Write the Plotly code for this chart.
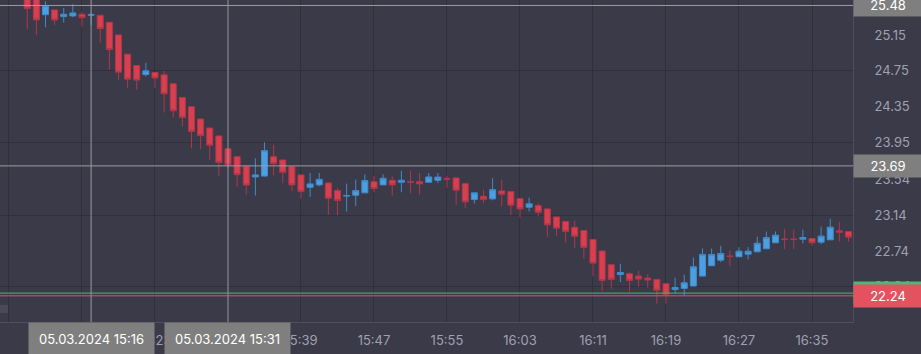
import pandas as pd
import plotly.graph_objects as go

# ---------------- data ----------------
start_time = "2024-03-05 15:09"
open_ = [25.60, 25.56, 25.377, 25.430, 25.356, 25.363, 25.382, 25.371, 25.371, 25.293,
         25.151, 24.937, 24.810, 24.709, 24.732, 24.706, 24.606, 24.453, 24.350, 24.213,
         24.113, 24.024, 23.882, 23.793, 23.685, 23.567, 23.576, 23.793, 23.756, 23.682,
         23.589, 23.451, 23.478, 23.500, 23.414, 23.353, 23.362, 23.389, 23.514, 23.478,
         23.529, 23.507, 23.514, 23.514, 23.507, 23.529, 23.548, 23.556, 23.492, 23.314,
         23.351, 23.322, 23.411, 23.403, 23.325, 23.229, 23.247, 23.210, 23.121, 23.069,
         23.005, 22.969, 22.869, 22.741, 22.587, 22.479, 22.487, 22.460, 22.438, 22.423,
         22.375, 22.312, 22.323, 22.349, 22.460, 22.576, 22.638, 22.685, 22.676, 22.705,
         22.731, 22.765, 22.832, 22.874, 22.874, 22.872, 22.880, 22.839, 22.865, 22.965,
         22.958]
high = [25.62, 25.57, 25.527, 25.432, 25.452, 25.494, 25.411, 25.397, 25.373, 25.295,
        25.153, 24.939, 24.812, 24.840, 24.740, 24.751, 24.608, 24.455, 24.352, 24.215,
        24.115, 24.026, 23.884, 23.795, 23.687, 23.774, 23.952, 23.927, 23.758, 23.684,
        23.591, 23.611, 23.611, 23.502, 23.444, 23.492, 23.537, 23.596, 23.581, 23.596,
        23.574, 23.637, 23.637, 23.611, 23.611, 23.611, 23.581, 23.558, 23.494, 23.389,
        23.422, 23.552, 23.537, 23.405, 23.327, 23.336, 23.273, 23.212, 23.123, 23.071,
        23.080, 22.971, 22.871, 22.743, 22.589, 22.598, 22.501, 22.520, 22.482, 22.425,
        22.377, 22.442, 22.476, 22.668, 22.768, 22.768, 22.798, 22.746, 22.783, 22.783,
        22.902, 22.958, 22.958, 22.988, 22.977, 22.977, 22.882, 23.014, 23.103, 23.066,
        22.960]
low = [25.218, 25.151, 25.237, 25.263, 25.289, 25.349, 25.244, 25.263, 25.066, 24.765,
       24.650, 24.561, 24.539, 24.687, 24.561, 24.286, 24.231, 24.130, 23.885, 23.879,
       23.759, 23.581, 23.670, 23.453, 23.370, 23.359, 23.572, 23.585, 23.496, 23.407,
       23.322, 23.344, 23.462, 23.144, 23.140, 23.181, 23.240, 23.387, 23.396, 23.476,
       23.359, 23.396, 23.385, 23.370, 23.505, 23.500, 23.448, 23.255, 23.218, 23.270,
       23.270, 23.306, 23.240, 23.140, 23.114, 23.181, 23.125, 22.899, 22.910, 22.835,
       22.772, 22.657, 22.457, 22.293, 22.320, 22.393, 22.288, 22.342, 22.331, 22.153,
       22.153, 22.271, 22.246, 22.347, 22.458, 22.574, 22.616, 22.571, 22.674, 22.646,
       22.729, 22.763, 22.830, 22.760, 22.760, 22.824, 22.798, 22.816, 22.863, 22.846,
       22.846]
close = [25.445, 25.319, 25.478, 25.319, 25.382, 25.397, 25.344, 25.378, 25.222, 24.988,
         24.736, 24.658, 24.647, 24.751, 24.671, 24.494, 24.305, 24.231, 24.075, 24.027,
         23.921, 23.729, 23.704, 23.592, 23.476, 23.589, 23.860, 23.715, 23.618, 23.478,
         23.403, 23.489, 23.540, 23.329, 23.303, 23.359, 23.414, 23.526, 23.437, 23.551,
         23.478, 23.529, 23.509, 23.489, 23.567, 23.565, 23.542, 23.418, 23.289, 23.389,
         23.314, 23.425, 23.373, 23.251, 23.210, 23.267, 23.173, 23.032, 22.995, 22.958,
         22.905, 22.780, 22.605, 22.412, 22.423, 22.501, 22.412, 22.427, 22.416, 22.301,
         22.256, 22.334, 22.386, 22.564, 22.702, 22.702, 22.713, 22.679, 22.738, 22.738,
         22.827, 22.891, 22.917, 22.869, 22.869, 22.891, 22.832, 22.906, 23.006, 22.950,
         22.895]

price_ticks = [25.15, 24.75, 24.35, 23.95, 23.54, 23.14, 22.74, 22.34]
grid_prices = [25.55, 24.75, 23.95, 23.14, 22.34]
time_ticks = ["15:07", "15:15", "15:23", "15:31", "15:39", "15:47", "15:55",
              "16:03", "16:11", "16:19", "16:27", "16:35"]

crosshair_prices = [25.48, 23.69]
crosshair_times = ["2024-03-05 15:16", "2024-03-05 15:31"]
crosshair_time_labels = ["05.03.2024 15:16", "05.03.2024 15:31"]
bid_price = 22.27   # green line
ask_price = 22.24   # red line

view_range_x = ["2024-03-05 15:06:01", "2024-03-05 16:39:29.6"]
view_range_y = [21.948, 25.541]

# ---------------- styling ----------------
BG = "#3a3a48"
GRID = "#30303c"
AXIS_LINE = "#4e4e5c"
TICK_COLOR = "#a0a0b2"
UP_FILL, UP_LINE = "#4c9fe0", "#3f8ccb"
DN_FILL, DN_LINE = "#d8404f", "#b3364a"
CROSS = "#9c9ca4"
GREEN = "#4cb873"
RED = "#e5525f"
LABEL_GRAY = "#7f7f7f"
FONT = "Inter"

times = pd.date_range(start=start_time, periods=len(open_), freq="min")

fig = go.Figure()
fig.add_trace(go.Candlestick(
    x=times, open=open_, high=high, low=low, close=close,
    increasing=dict(line=dict(color=UP_LINE, width=1), fillcolor=UP_FILL),
    decreasing=dict(line=dict(color=DN_LINE, width=1), fillcolor=DN_FILL),
    whiskerwidth=0, showlegend=False, hoverinfo="skip",
))

shapes = []
for p in crosshair_prices:
    shapes.append(dict(type="line", xref="paper", x0=0, x1=1, yref="y", y0=p, y1=p,
                       line=dict(color=CROSS, width=1), layer="above"))
for t in crosshair_times:
    shapes.append(dict(type="line", xref="x", x0=t, x1=t, yref="paper", y0=0, y1=1,
                       line=dict(color=CROSS, width=1), layer="above"))
shapes.append(dict(type="line", xref="paper", x0=0, x1=1, yref="y", y0=bid_price, y1=bid_price,
                   line=dict(color=GREEN, width=1), layer="above"))
shapes.append(dict(type="line", xref="paper", x0=0, x1=1, yref="y", y0=ask_price, y1=ask_price,
                   line=dict(color=RED, width=1), layer="above"))
# small scroll handle bottom-left
shapes.append(dict(type="rect", xref="paper", yref="paper", x0=0, x1=8 / 853,
                   y0=9 / 322, y1=17 / 322, fillcolor="#4a4a58", line=dict(width=0)))

annotations = []
for t, txt in zip(crosshair_times, crosshair_time_labels):
    annotations.append(dict(x=t, xref="x", y=0, yref="paper", yanchor="top", xanchor="center",
                            text=txt, showarrow=False, bgcolor=LABEL_GRAY, width=125, height=32,
                            borderpad=0, font=dict(family=FONT, size=13, color="#ffffff")))
for p, col in [(crosshair_prices[0], LABEL_GRAY), (crosshair_prices[1], LABEL_GRAY),
               (bid_price, GREEN), (ask_price, RED)]:
    annotations.append(dict(x=1, xref="paper", xanchor="left", y=p, yref="y", yanchor="middle",
                            text=f"{p:.2f}", showarrow=False, bgcolor=col, width=68, height=22,
                            borderpad=0, font=dict(family=FONT, size=13, color="#ffffff")))

fig.update_layout(
    width=921, height=354,
    margin=dict(l=0, r=68, t=0, b=32),
    paper_bgcolor=BG, plot_bgcolor=BG,
    boxgap=0.34, boxgroupgap=0,
    shapes=shapes, annotations=annotations,
    font=dict(family=FONT, size=13, color=TICK_COLOR),
    hovermode=False,
    xaxis=dict(
        type="date", range=view_range_x, rangeslider=dict(visible=False),
        tickmode="array",
        tickvals=[f"2024-03-05 {t}" for t in time_ticks], ticktext=time_ticks,
        showgrid=True, gridcolor=GRID, gridwidth=1,
        ticks="", showline=True, linecolor=AXIS_LINE, linewidth=1, zeroline=False,
        tickfont=dict(family=FONT, size=13, color=TICK_COLOR),
        ticklabelstandoff=6,
    ),
    yaxis=dict(
        side="right", range=view_range_y,
        tickmode="array", tickvals=price_ticks, ticktext=[f"{v:.2f}" for v in price_ticks],
        showgrid=False, zeroline=False,
        minor=dict(tickmode="array", tickvals=grid_prices, showgrid=True, gridcolor=GRID,
                   gridwidth=1, ticks=""),
        ticks="", showline=True, linecolor=AXIS_LINE, linewidth=1,
        tickfont=dict(family=FONT, size=13, color=TICK_COLOR),
        ticklabelstandoff=18,
    ),
)

fig.write_html("out.html")
